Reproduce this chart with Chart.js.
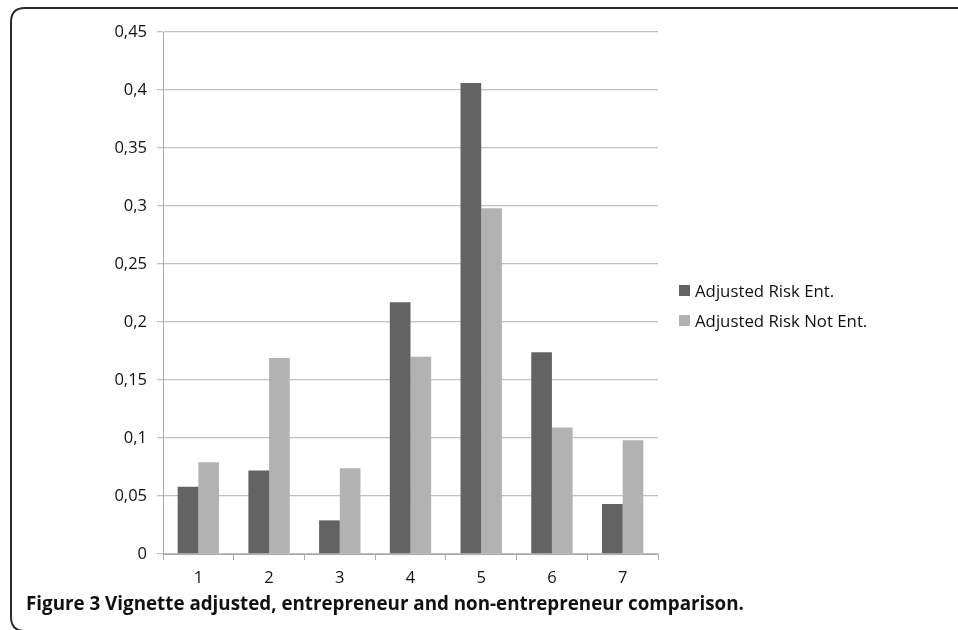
<!DOCTYPE html>
<html>
<head>
<meta charset="utf-8">
<script src="https://cdn.jsdelivr.net/npm/chart.js@4/dist/chart.umd.min.js"></script>
<style>
  html, body { margin: 0; padding: 0; background: #fff; overflow: hidden; }
  body { width: 958px; height: 630px; position: relative; }
  #frame { position: absolute; left: 0; top: 0; }
  #wrap { position: absolute; left: 0; top: 0; width: 680px; height: 600px; }
  #legend { position: absolute; left: 679px; top: 275px; font-family: "Open Sans", sans-serif;
    font-size: 16.8px; color: #111; }
  #legend .item { display: flex; align-items: center; height: 30px; }
  #legend .sw { width: 11px; height: 11px; margin-right: 5px; }
  #caption { position: absolute; left: 26px; top: 590px; font-family: "Open Sans", sans-serif;
    font-weight: bold; font-size: 18.8px; color: #111; white-space: nowrap; }
</style>
</head>
<body>
<svg id="frame" width="958" height="630" viewBox="0 0 958 630">
  <path d="M 960 8 L 25 8 Q 11 8 11 22 L 11 617 Q 11 631 25 631 L 960 631"
        fill="none" stroke="#2b2b2b" stroke-width="2"/>
</svg>
<div id="wrap"><canvas id="c" width="680" height="600"></canvas></div>
<div id="legend"></div>
<div id="caption">Figure 3 Vignette adjusted, entrepreneur and non-entrepreneur comparison.</div>
<script>
const categories = ["1", "2", "3", "4", "5", "6", "7"];
const seriesNames = ["Adjusted Risk Ent.", "Adjusted Risk Not Ent."];
const riskEnt = [0.058, 0.072, 0.029, 0.217, 0.406, 0.174, 0.043];
const riskNotEnt = [0.079, 0.169, 0.074, 0.170, 0.298, 0.109, 0.098];
const seriesColors = ["#636363", "#b2b2b2"];

const legend = document.getElementById('legend');
seriesNames.forEach((n, i) => {
  const d = document.createElement('div'); d.className = 'item';
  const s = document.createElement('span'); s.className = 'sw'; s.style.background = seriesColors[i];
  const t = document.createElement('span'); t.textContent = n;
  d.appendChild(s); d.appendChild(t); legend.appendChild(d);
});

new Chart(document.getElementById('c'), {
  type: 'bar',
  data: {
    labels: categories,
    datasets: [
      { label: seriesNames[0], data: riskEnt, backgroundColor: seriesColors[0], borderWidth: 0 },
      { label: seriesNames[1], data: riskNotEnt, backgroundColor: seriesColors[1], borderWidth: 0 }
    ]
  },
  options: {
    responsive: false,
    animation: false,
    devicePixelRatio: 1,
    layout: { padding: { top: 32, right: 22, left: 0, bottom: 0 } },
    plugins: { legend: { display: false }, tooltip: { enabled: false } },
    datasets: { bar: { categoryPercentage: 0.585, barPercentage: 1.0 } },
    scales: {
      x: {
        grid: { display: true, drawOnChartArea: false, offset: true, tickLength: 6, color: '#a8a8a8' },
        border: { color: '#a8a8a8' },
        ticks: { color: '#111', font: { family: 'Open Sans', size: 16.5 }, padding: 8 },
        afterFit: (s) => { s.height = 46; }
      },
      y: {
        min: 0, max: 0.45,
        grid: { color: '#c0c0c0', tickLength: 6, lineWidth: 1.3 },
        border: { color: '#a8a8a8' },
        ticks: {
          stepSize: 0.05, color: '#111', font: { family: 'Open Sans', size: 16.5 }, padding: 10,
          callback: (v) => Number(v.toFixed(2)).toString().replace('.', ',')
        },
        afterFit: (s) => { s.width = 163; }
      }
    }
  }
});
</script>
</body>
</html>
